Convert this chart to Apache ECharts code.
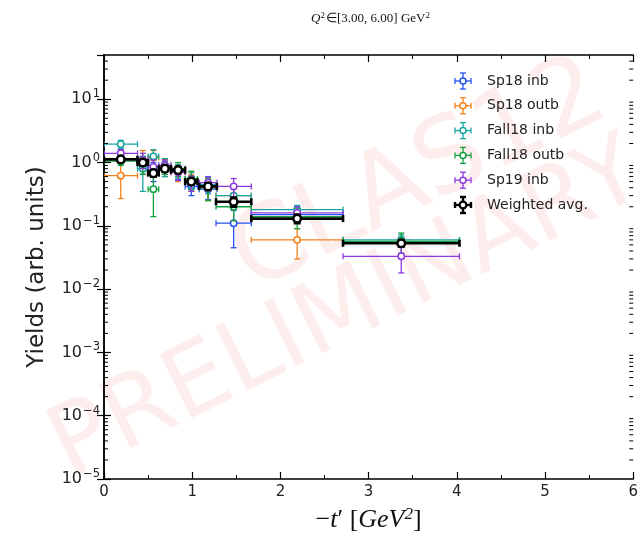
<!DOCTYPE html>
<html>
<head>
<meta charset="utf-8">
<script src="https://cdn.jsdelivr.net/npm/echarts@6/dist/echarts.min.js"></script>
<style>
  html, body { margin: 0; padding: 0; background: #fff; }
  #chart { width: 641px; height: 543px; }
</style>
</head>
<body>
<div id="chart"></div>
<script>
// -t' bins (GeV^2): centres and half-widths
const tCenters    = [0.19, 0.44, 0.56, 0.69, 0.84, 0.99, 1.18, 1.47, 2.19, 3.37];
const tHalfWidths = [0.19, 0.06, 0.06, 0.07, 0.08, 0.07, 0.10, 0.20, 0.52, 0.66];

// yields (arb. units) and their uncertainties, one pair per run period
const sp18InbYield    = [1.15, 0.90, 0.75, 0.85, 0.72, 0.42, 0.38, 0.11, 0.15, 0.056];
const sp18InbErr      = [0.15, 0.25, 0.25, 0.20, 0.18, 0.12, 0.12, 0.065, 0.04, 0.010];
const sp18OutbYield   = [0.62, 1.10, 1.20, 0.85, 0.70, 0.50, 0.40, 0.30, 0.06, null];
const sp18OutbErr     = [0.35, 0.45, 0.35, 0.25, 0.20, 0.15, 0.15, 0.10, 0.03, null];
const fall18InbYield  = [1.95, 0.80, 1.25, 0.80, 0.75, 0.55, 0.45, 0.30, 0.18, 0.060];
const fall18InbErr    = [0.30, 0.45, 0.35, 0.20, 0.18, 0.15, 0.13, 0.10, 0.03, 0.012];
const fall18OutbYield = [1.05, 0.95, 0.38, 0.90, 0.80, 0.55, 0.40, 0.20, 0.14, 0.057];
const fall18OutbErr   = [0.15, 0.30, 0.24, 0.25, 0.20, 0.18, 0.15, 0.08, 0.05, 0.020];
const sp19InbYield    = [1.40, 1.10, 0.85, 0.90, 0.70, 0.48, 0.48, 0.42, 0.16, 0.033];
const sp19InbErr      = [0.20, 0.30, 0.25, 0.20, 0.18, 0.13, 0.12, 0.14, 0.04, 0.015];
const weightedYield   = [1.12, 1.00, 0.68, 0.80, 0.76, 0.50, 0.42, 0.24, 0.13, 0.053];
const weightedErr     = [0.10, 0.10, 0.08, 0.08, 0.07, 0.05, 0.05, 0.04, 0.02, 0.006];

const seriesNames  = ['Sp18 inb', 'Sp18 outb', 'Fall18 inb', 'Fall18 outb', 'Sp19 inb', 'Weighted avg.'];
const seriesYields = [sp18InbYield, sp18OutbYield, fall18InbYield, fall18OutbYield, sp19InbYield, weightedYield];
const seriesErrors = [sp18InbErr, sp18OutbErr, fall18InbErr, fall18OutbErr, sp19InbErr, weightedErr];
const seriesColors = ['#2553f0', '#f5801c', '#16a6a0', '#13a03e', '#8b3ae0', '#000000'];

// axis ranges
const xMin = 0, xMax = 6;
const yMin = 1e-5, yMax = 50;

// "10" with a raised exponent
function powerLabel(v) {
  const e = Math.round(Math.log10(v));
  return '{b|10}{s|' + (e < 0 ? '\u2212' + (-e) : e) + '}';
}

// minor ticks of the log axis: 2..9 x 10^k
const logMinorValues = [];
for (let k = -5; k <= 1; k++) {
  for (let m = 2; m <= 9; m++) {
    const v = m * Math.pow(10, k);
    if (v < yMax) logMinorValues.push(v);
  }
}

function errorBarItem(color, lw, cap, r, bw) {
  return function (params, api) {
    const x = api.value(0), y = api.value(1), xe = api.value(2), ye = api.value(3);
    const lo = Math.max(y - ye, yMin);
    const c = api.coord([x, y]);
    const l = api.coord([x - xe, y]);
    const rr = api.coord([x + xe, y]);
    const t = api.coord([x, y + ye]);
    const b = api.coord([x, lo]);
    const st = { stroke: color, lineWidth: lw, fill: null };
    return {
      type: 'group',
      children: [
        { type: 'line', shape: { x1: l[0], y1: l[1], x2: rr[0], y2: rr[1] }, style: st },
        { type: 'line', shape: { x1: t[0], y1: t[1], x2: b[0], y2: b[1] }, style: st },
        { type: 'line', shape: { x1: l[0], y1: l[1] - cap, x2: l[0], y2: l[1] + cap }, style: st },
        { type: 'line', shape: { x1: rr[0], y1: rr[1] - cap, x2: rr[0], y2: rr[1] + cap }, style: st },
        { type: 'line', shape: { x1: t[0] - cap, y1: t[1], x2: t[0] + cap, y2: t[1] }, style: st },
        { type: 'line', shape: { x1: b[0] - cap, y1: b[1], x2: b[0] + cap, y2: b[1] }, style: st },
        { type: 'circle', shape: { cx: c[0], cy: c[1], r: r }, style: { fill: '#fff', stroke: color, lineWidth: bw } }
      ]
    };
  };
}

const series = seriesNames.map((name, i) => {
  const isAvg = i === seriesNames.length - 1;
  const data = [];
  tCenters.forEach((t, j) => {
    const y = seriesYields[i][j];
    if (y !== null) data.push([t, y, tHalfWidths[j], seriesErrors[i][j]]);
  });
  return {
    type: 'custom',
    name: name,
    data: data,
    encode: { x: 0, y: 1 },
    clip: true,
    z: 3 + i,
    renderItem: isAvg ? errorBarItem('#000', 2.6, 3.5, 3.8, 2.5)
                      : errorBarItem(seriesColors[i], 1.3, 3, 3.2, 1.5)
  };
});

// log-axis minor ticks on the left and right frame
series.push({
  type: 'custom',
  name: 'minor',
  data: logMinorValues.map(v => [xMin, v]),
  encode: { x: 0, y: 1 },
  silent: true,
  z: 10,
  renderItem: function (params, api) {
    const v = api.value(1);
    const pl = api.coord([xMin, v]);
    const pr = api.coord([xMax, v]);
    const st = { stroke: '#000', lineWidth: 1 };
    return {
      type: 'group',
      children: [
        { type: 'line', shape: { x1: pl[0], y1: pl[1], x2: pl[0] + 4, y2: pl[1] }, style: st },
        { type: 'line', shape: { x1: pr[0], y1: pr[1], x2: pr[0] - 4, y2: pr[1] }, style: st }
      ]
    };
  }
});

const axisLineStyle = { color: '#000', width: 1.5 };
const majorTick = { show: true, inside: true, length: 7, lineStyle: { color: '#000', width: 1.2 } };
const minorTickX = { show: true, splitNumber: 2, length: 4, lineStyle: { color: '#000', width: 1 } };

// legend drawn as error-bar glyphs
const legendX = 463, legendTextX = 487, legendY0 = 81, legendDy = 24.8;
const legendItems = seriesNames.map((name, i) => {
  const isAvg = i === seriesNames.length - 1;
  const color = seriesColors[i];
  const lw = isAvg ? 2.4 : 1.3;
  const st = { stroke: color, lineWidth: lw, fill: null };
  const y = legendY0 + i * legendDy;
  const h = 8, cap = 3;
  return {
    type: 'group',
    z: 20,
    children: [
      { type: 'line', shape: { x1: legendX - h, y1: y, x2: legendX + h, y2: y }, style: st },
      { type: 'line', shape: { x1: legendX, y1: y - h, x2: legendX, y2: y + h }, style: st },
      { type: 'line', shape: { x1: legendX - h, y1: y - cap, x2: legendX - h, y2: y + cap }, style: st },
      { type: 'line', shape: { x1: legendX + h, y1: y - cap, x2: legendX + h, y2: y + cap }, style: st },
      { type: 'line', shape: { x1: legendX - cap, y1: y - h, x2: legendX + cap, y2: y - h }, style: st },
      { type: 'line', shape: { x1: legendX - cap, y1: y + h, x2: legendX + cap, y2: y + h }, style: st },
      { type: 'circle', shape: { cx: legendX, cy: y, r: isAvg ? 3.4 : 3 },
        style: { fill: '#fff', stroke: color, lineWidth: isAvg ? 2.2 : 1.5 } },
      { type: 'text', x: legendTextX, y: y,
        style: { text: name, font: '14px "DejaVu Sans"', fill: '#222', textVerticalAlign: 'middle' } }
    ]
  };
});

const chart = echarts.init(document.getElementById('chart'), null, { renderer: 'canvas' });
chart.setOption({
  animation: false,
  backgroundColor: '#fff',
  grid: { left: 104, right: 5, top: 55, bottom: 64, containLabel: false },
  xAxis: [
    {
      type: 'value', min: xMin, max: xMax, interval: 1, position: 'bottom',
      axisLine: { show: true, lineStyle: axisLineStyle },
      axisTick: majorTick, minorTick: minorTickX,
      splitLine: { show: false },
      axisLabel: { margin: 6, fontFamily: 'DejaVu Sans', fontSize: 15, color: '#222' },
      name: '{m|\u2212}{i|t}{m|\u2032 [}{i|GeV}{s|2}{m|]}',
      nameLocation: 'middle', nameGap: 27,
      nameTextStyle: {
        fontFamily: 'Liberation Serif', fontSize: 26, color: '#111',
        rich: {
          m: { fontFamily: 'Liberation Serif', fontSize: 26, color: '#111' },
          i: { fontFamily: 'Liberation Serif', fontSize: 26, fontStyle: 'italic', color: '#111' },
          s: { fontFamily: 'Liberation Serif', fontSize: 17, fontStyle: 'italic', color: '#111',
               padding: [0, 0, 11, 0] }
        }
      }
    },
    {
      type: 'value', min: xMin, max: xMax, interval: 1, position: 'top',
      axisLine: { show: true, lineStyle: axisLineStyle },
      axisTick: majorTick, minorTick: minorTickX,
      splitLine: { show: false }, axisLabel: { show: false }
    }
  ],
  yAxis: [
    {
      type: 'log', logBase: 10, min: yMin, max: yMax, position: 'left',
      axisLine: { show: true, lineStyle: axisLineStyle },
      axisTick: majorTick,
      splitLine: { show: false },
      axisLabel: {
        margin: 4, showMaxLabel: false, formatter: powerLabel,
        rich: {
          b: { fontFamily: 'DejaVu Sans', fontSize: 16, color: '#222' },
          s: { fontFamily: 'DejaVu Sans', fontSize: 11.5, color: '#222', padding: [0, 0, 10, 1] }
        }
      },
      name: 'Yields (arb. units)',
      nameLocation: 'middle', nameGap: 55, nameRotate: 90,
      nameTextStyle: { fontFamily: 'DejaVu Sans', fontSize: 23, color: '#222' }
    },
    {
      type: 'log', logBase: 10, min: yMin, max: yMax, position: 'right',
      axisLine: { show: true, lineStyle: axisLineStyle },
      axisTick: majorTick,
      splitLine: { show: false }, axisLabel: { show: false }
    }
  ],
  graphic: [
    {
      type: 'text', x: 371, y: 19, z: 20,
      style: {
        text: '{i|Q}{s|2}{m|\u2208[3.00, 6.00] GeV}{s|2}',
        textAlign: 'center', textVerticalAlign: 'middle',
        rich: {
          i: { fontFamily: 'Liberation Serif', fontSize: 13, fontStyle: 'italic', fill: '#111' },
          m: { fontFamily: 'Liberation Serif', fontSize: 13, fill: '#111' },
          s: { fontFamily: 'Liberation Serif', fontSize: 9, fill: '#111', padding: [0, 1, 6, 0] }
        }
      }
    },
    {
      type: 'text', x: 420, y: 178, rotation: 0.46, z: -1,
      style: { text: 'CLAS12', font: '104px "DejaVu Sans"', fill: 'rgba(240,60,60,0.09)',
               textAlign: 'center', textVerticalAlign: 'middle' }
    },
    {
      type: 'text', x: 348, y: 312, rotation: 0.46, z: -1,
      style: { text: 'PRELIMINARY', font: '98px "DejaVu Sans"', fill: 'rgba(240,60,60,0.09)',
               textAlign: 'center', textVerticalAlign: 'middle' }
    }
  ].concat(legendItems),
  series: series
});
</script>
</body>
</html>
